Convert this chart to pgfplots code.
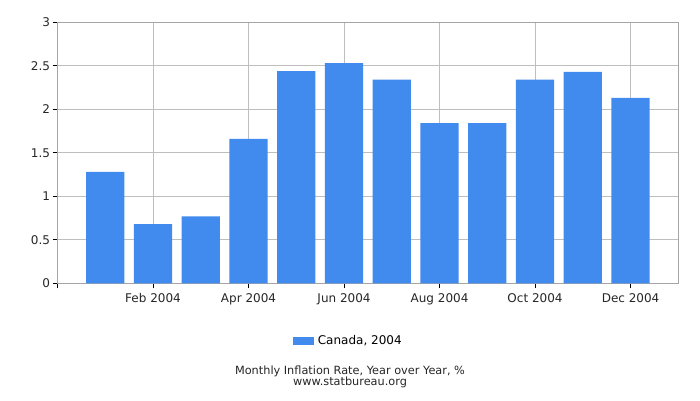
\documentclass[border=0pt]{standalone}
\usepackage{pgfplots}
\pgfplotsset{compat=1.18}
\usepackage{fontspec}
\setmainfont{DejaVu Sans}
\definecolor{barblue}{RGB}{66,139,238}
\definecolor{gridgray}{RGB}{190,190,190}
\definecolor{framegray}{RGB}{165,165,165}
\begin{document}
\begin{tikzpicture}
\useasboundingbox (0pt,0pt) rectangle (700pt,400pt);
\begin{axis}[
    at={(57.5pt,116.7pt)}, anchor=south west,
    width=620.8pt, height=261pt, scale only axis,
    xmin=0, xmax=13, ymin=0, ymax=3,
    ytick={0,0.5,...,3},
    xtick={0,2,...,12},
    xticklabels={,Feb 2004,Apr 2004,Jun 2004,Aug 2004,Oct 2004,Dec 2004},
    tick pos=left, tick align=outside,
    major tick length=5pt,
    tick style={black, line width=0.8pt},
    grid=major, grid style={gridgray, line width=0.8pt},
    axis line style={framegray, line width=0.8pt},
    ticklabel style={font=\fontsize{12}{14}\selectfont, text=black!85},
    /pgf/number format/assume math mode=true,
    y tick label style={xshift=1pt},
    x tick label style={yshift=-2pt},
    ybar, bar width=0.8,
    legend style={at={(0.47,-0.221)}, anchor=center, draw=none,
        font=\fontsize{12}{14}\selectfont, fill=none,
        nodes={inner xsep=4pt}},
    legend image code/.code={\fill[barblue] (-2pt,-4pt) rectangle (19pt,4pt);},
]
\addplot[fill=barblue, draw=none] coordinates {
    (1,1.28) (2,0.68) (3,0.77) (4,1.66) (5,2.44) (6,2.53)
    (7,2.34) (8,1.84) (9,1.84) (10,2.34) (11,2.43) (12,2.13)
};
\addlegendentry{Canada, 2004}
\end{axis}
\node[font=\fontsize{11.3}{13}\selectfont, text=black!85] at (350pt,29pt) {Monthly Inflation Rate, Year over Year, \%};
\node[font=\fontsize{11.3}{13}\selectfont, text=black!85] at (350pt,18pt) {www.statbureau.org};
\end{tikzpicture}
\end{document}
